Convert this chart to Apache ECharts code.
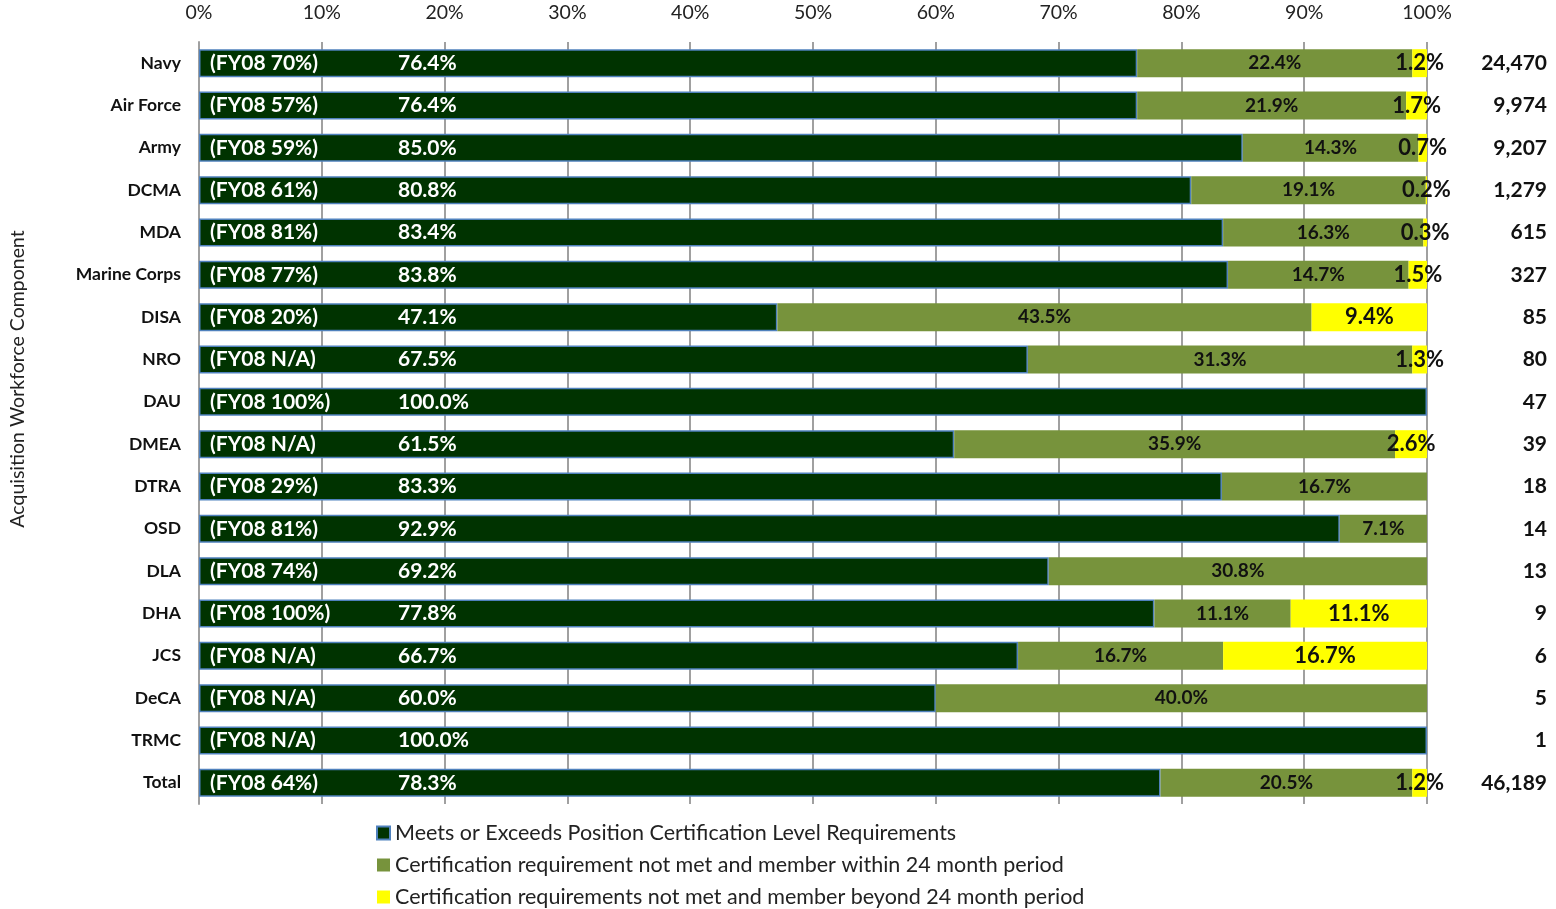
<!DOCTYPE html>
<html>
<head>
<meta charset="utf-8">
<script src="https://cdn.jsdelivr.net/npm/echarts@6/dist/echarts.min.js"></script>
<style>
html,body{margin:0;padding:0;background:#fff;}
#chart{width:1556px;height:909px;}
</style>
</head>
<body>
<div id="chart"></div>
<script>
const categories = ['Navy','Air Force','Army','DCMA','MDA','Marine Corps','DISA','NRO','DAU','DMEA','DTRA','OSD','DLA','DHA','JCS','DeCA','TRMC','Total'];
const meets = [76.4,76.4,85.0,80.8,83.4,83.8,47.1,67.5,100.0,61.5,83.3,92.9,69.2,77.8,66.7,60.0,100.0,78.3];
const within24 = [22.4,21.9,14.3,19.1,16.3,14.7,43.5,31.3,0,35.9,16.7,7.1,30.8,11.1,16.7,40.0,0,20.5];
const beyond24 = [1.2,1.7,0.7,0.2,0.3,1.5,9.4,1.3,0,2.6,0,0,0,11.1,16.7,0,0,1.2];
const fy08 = ['70%','57%','59%','61%','81%','77%','20%','N/A','100%','N/A','29%','81%','74%','100%','N/A','N/A','N/A','64%'];
const counts = ['24,470','9,974','9,207','1,279','615','327','85','80','47','39','18','14','13','9','6','5','1','46,189'];
const xTicks = [0,10,20,30,40,50,60,70,80,90,100];
const legendNames = ['Meets or Exceeds Position Certification Level Requirements','Certification requirement not met and member within 24 month period','Certification requirements not met and member beyond 24 month period'];

const FONT = 'Lato, "Open Sans", "Noto Sans", sans-serif';
const chart = echarts.init(document.getElementById('chart'));
chart.setOption({
  animation: false,
  textStyle: {fontFamily: FONT},
  grid: {left: 199, right: 129, top: 42, bottom: 105, containLabel: false},
  xAxis: {
    type: 'value', position: 'top', min: xTicks[0], max: xTicks[xTicks.length-1], interval: 10,
    axisLine: {show: false}, axisTick: {show: false},
    axisLabel: {formatter: '{value}%', fontSize: 19.5, color: '#222', margin: 19, fontFamily: FONT},
    splitLine: {show: true, lineStyle: {color: '#a0a0a0', width: 2}}
  },
  yAxis: [{
    type: 'category', data: categories, inverse: true,
    axisLine: {show: true, lineStyle: {color: '#a0a0a0', width: 2}}, axisTick: {show: false},
    axisLabel: {fontSize: 17.5, fontWeight: 'bold', color: '#111', margin: 18, fontFamily: FONT}
  },{
    type: 'category', data: counts, inverse: true, position: 'right',
    axisLine: {show: false}, axisTick: {show: false},
    axisLabel: {fontSize: 21, fontWeight: 'bold', color: '#111', margin: 120, align: 'right', fontFamily: FONT}
  }],
  legend: {
    orient: 'vertical', left: 371, top: 817, height: 130, itemWidth: 13, itemHeight: 13, itemGap: 10,
    icon: 'rect',
    textStyle: {fontSize: 21.5, color: '#222', lineHeight: 22, fontFamily: FONT},
    data: legendNames
  },
  graphic: [{
    type: 'text', x: 18, y: 379, rotation: Math.PI/2,
    style: {text: 'Acquisition Workforce Component', font: '19.5px ' + FONT, fill: '#222', textAlign: 'center', textVerticalAlign: 'middle'}
  }],
  series: [{
    name: legendNames[0], type: 'bar', stack: 'a', yAxisIndex: 0, barWidth: '66%',
    data: meets,
    itemStyle: {color: '#003300', borderColor: '#4F81BD', borderWidth: 1.5},
    label: {
      show: true, position: 'insideLeft', distance: 11,
      formatter: p => '{a|(FY08 ' + fy08[p.dataIndex] + ')}{b|' + p.value.toFixed(1) + '%}',
      rich: {
        a: {width: 188, fontSize: 21, fontWeight: 'bold', color: '#fff', fontFamily: FONT},
        b: {fontSize: 21, fontWeight: 'bold', color: '#fff', fontFamily: FONT}
      }
    }
  },{
    name: legendNames[1], type: 'bar', stack: 'a', yAxisIndex: 0,
    data: within24,
    itemStyle: {color: '#77933C'},
    label: {
      show: true, position: 'inside', fontSize: 19, fontWeight: 'bold', color: '#111', fontFamily: FONT,
      formatter: p => p.value > 0 ? p.value.toFixed(1) + '%' : ''
    }
  },{
    name: legendNames[2], type: 'bar', stack: 'a', yAxisIndex: 0,
    data: beyond24,
    itemStyle: {color: '#FFFF00'},
    label: {
      show: true, position: 'inside', fontSize: 22, fontWeight: 'bold', color: '#111', fontFamily: FONT,
      formatter: p => p.value > 0 ? p.value.toFixed(1) + '%' : ''
    }
  }]
});
</script>
</body>
</html>
